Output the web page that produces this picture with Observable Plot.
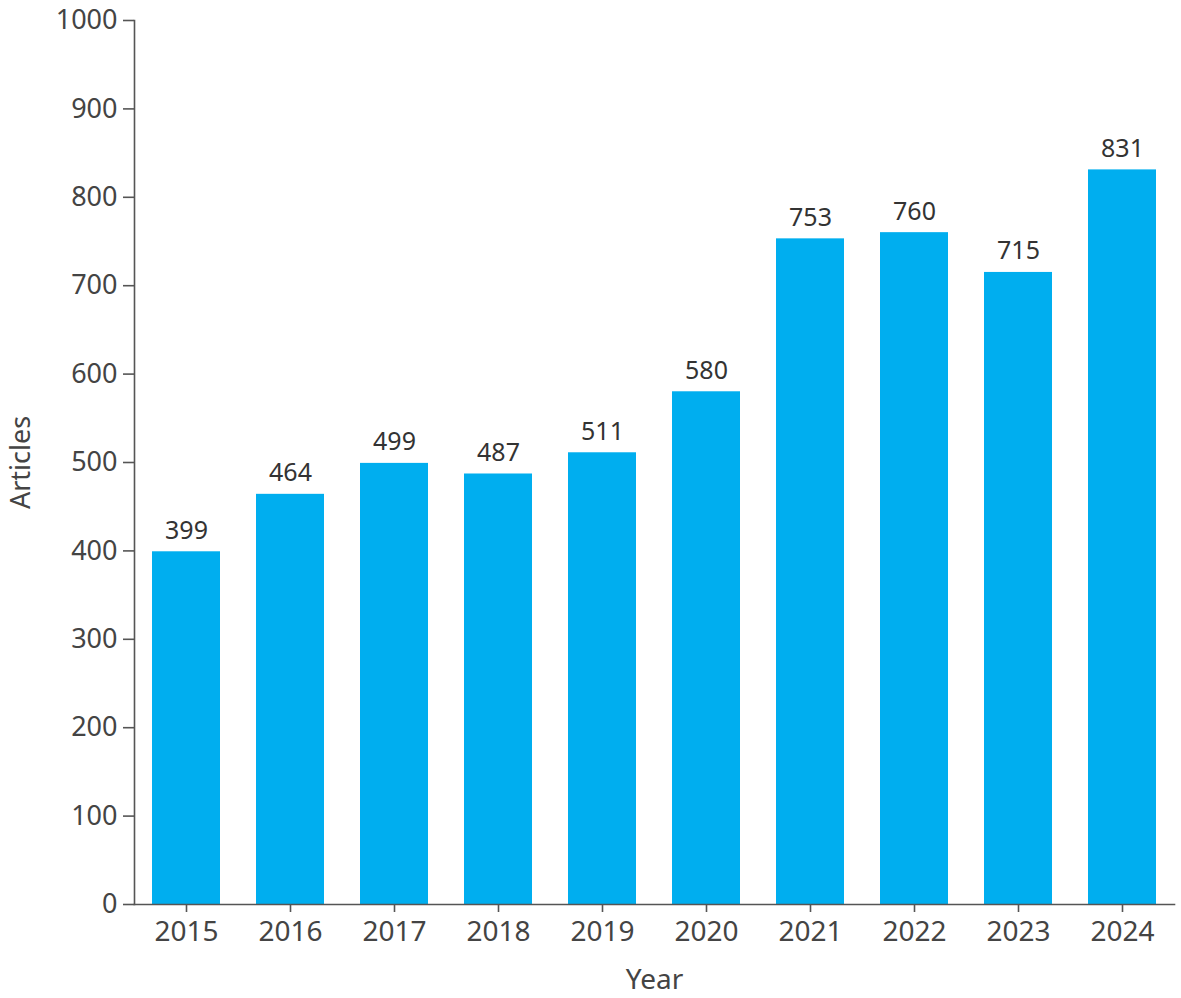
<!DOCTYPE html>
<html>
<head>
<meta charset="utf-8">
<script src="https://cdn.jsdelivr.net/npm/d3@7"></script>
<script src="https://cdn.jsdelivr.net/npm/@observablehq/plot@0.6"></script>
<style>
  html, body { margin: 0; padding: 0; background: #fff; }
  #chart svg { display: block; }
</style>
</head>
<body>
<div id="chart"></div>
<script>
const years = ["2015","2016","2017","2018","2019","2020","2021","2022","2023","2024"];
const articles = [399, 464, 499, 487, 511, 580, 753, 760, 715, 831];
const yTicks = [0,100,200,300,400,500,600,700,800,900,1000];

const data = years.map((y, i) => ({year: y, count: articles[i]}));
const axisColor = "#555";
const textColor = "#444";
const font = "'Noto Sans', 'Open Sans', sans-serif";

const chart = Plot.plot({
  width: 1181,
  height: 998,
  marginTop: 20,
  marginBottom: 94,
  marginLeft: 134,
  marginRight: 7,
  style: {fontFamily: font, background: "#fff", overflow: "visible"},
  x: {domain: years, paddingInner: 0.346, paddingOuter: 0.173},
  y: {domain: [0, 1000]},
  marks: [
    Plot.barY(data, {x: "year", y: "count", fill: "#00AEEF"}),
    Plot.frame({anchor: "left", stroke: axisColor, strokeWidth: 1.6}),
    Plot.frame({anchor: "bottom", stroke: axisColor, strokeWidth: 1.6}),
    Plot.axisY({ticks: yTicks, tickFormat: d3.format("d"), tickSize: 11, tickPadding: 6, fontSize: 27, color: textColor, stroke: axisColor,
      strokeWidth: 1.6, label: "Articles", labelAnchor: "center", labelArrow: "none", labelOffset: 124}),
    Plot.axisX({tickSize: 8, tickPadding: 9, fontSize: 28, color: textColor, stroke: axisColor,
      strokeWidth: 1.6, label: "Year", labelAnchor: "center", labelArrow: "none", labelOffset: 84}),
    Plot.text(data, {x: "year", y: "count", text: d => String(d.count), dy: -21, fontSize: 25, fill: "#333"})
  ]
});
document.getElementById("chart").appendChild(chart);
</script>
</body>
</html>
